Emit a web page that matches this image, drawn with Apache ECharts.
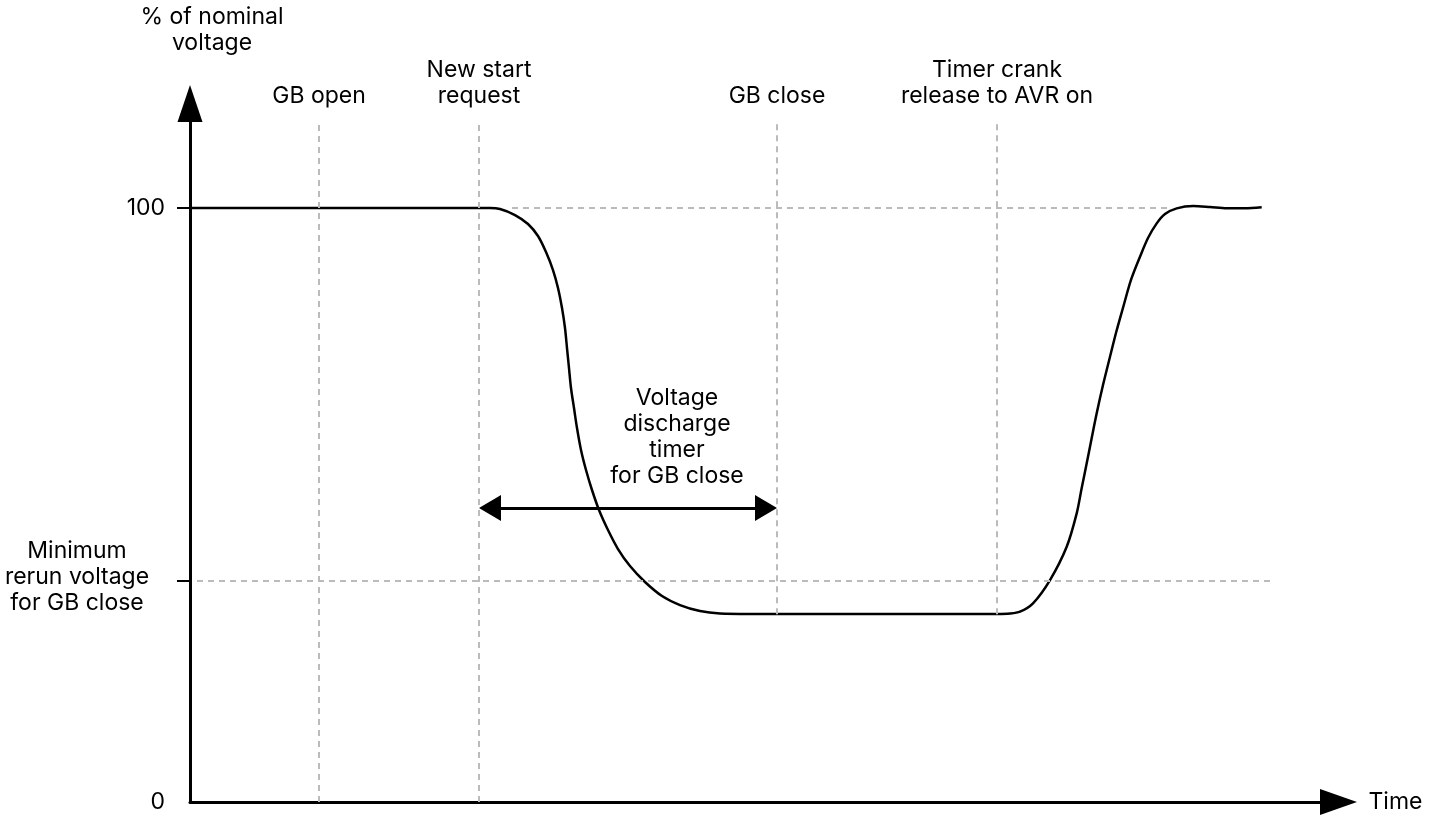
<!DOCTYPE html>
<html><head><meta charset="utf-8">
<script src="https://cdn.jsdelivr.net/npm/echarts@6/dist/echarts.min.js"></script>
<style>html,body{margin:0;padding:0;background:#fff}#c{width:1444px;height:819px}</style>
</head><body><div id="c"></div>
<script>
// ---- data ----
const timeX = [0, 15, 28, 30, 31, 32.5, 33.8, 34.8, 35.6, 36.3, 36.8, 37.2, 37.5, 37.7, 37.9, 38.1, 38.4, 38.7, 39.1, 39.6, 40.2, 40.9, 41.8, 42.8, 44.0, 45.5, 47.2, 49.0, 51.0, 53.0, 56, 68, 78.5, 80.7, 82, 83, 84.3, 86, 87.67, 88.67, 89.17, 89.67, 90.17, 90.67, 91.3, 92, 92.65, 93.33, 94.1, 95, 95.8, 96.67, 97.5, 98.67, 100.33, 102, 103.67, 105.5, 107.17];
const voltageY = [100, 100, 100, 100, 99.83, 98.82, 97.31, 95.29, 92.59, 89.56, 86.53, 83.16, 79.80, 76.43, 73.06, 69.70, 66.33, 62.96, 59.26, 55.89, 52.53, 49.16, 45.79, 42.59, 39.73, 37.04, 34.68, 33.16, 32.15, 31.73, 31.65, 31.65, 31.65, 31.65, 31.72, 32.04, 33.45, 37.37, 42.98, 48.60, 52.86, 57.02, 61.28, 65.44, 70.2, 74.97, 79.3, 83.38, 87.9, 91.80, 94.95, 97.42, 98.99, 99.95, 100.34, 100.17, 99.95, 99.95, 100.12];
const nominalLevel = 100;
const minRerunLevel = 37.2;
const yTickValues = [0, 100];
const yTickMarks = [100, 37.2];
const eventNames = ['GB open', 'New start\nrequest', 'GB close', 'Timer crank\nrelease to AVR on'];
const eventTimes = [12.9, 28.9, 58.7, 80.7];
const eventLineFrom = [0, 0, 31.6, 31.6];
const eventLineTop = 114.5;
const nominalDashRange = [32.2, 97.7];
const minRerunDashRange = [0.7, 108];
const timerArrowRange = [30.0, 57.6];
const timerArrowLevel = 49.5;
const yAxisName = '% of nominal\nvoltage';
const minRerunLabel = 'Minimum\nrerun voltage\nfor GB close';
const timerLabel = 'Voltage\ndischarge\ntimer\nfor GB close';

const FONT = 'Inter, "Noto Sans", sans-serif';
const FS = 23;
const LH = 26;
const chart = echarts.init(document.getElementById('c'));
const dash = {color: '#bbbbbb', width: 2, type: [6, 5]};

const vLines = eventTimes.map((t, i) => [{coord: [t, eventLineFrom[i]]}, {coord: [t, eventLineTop]}]);
const hLines = [
  [{coord: [nominalDashRange[0], nominalLevel]}, {coord: [nominalDashRange[1], nominalLevel]}],
  [{coord: [minRerunDashRange[0], minRerunLevel]}, {coord: [minRerunDashRange[1], minRerunLevel]}]
];

chart.setOption({
  animation: false,
  backgroundColor: '#fff',
  grid: {left: 190, right: 105.5, top: 103.5, bottom: 17, containLabel: false},
  xAxis: {
    type: 'value', min: 0, max: 114.85,
    name: 'Time', nameLocation: 'end', nameGap: 30,
    nameTextStyle: {fontFamily: FONT, fontSize: FS, color: '#000', verticalAlign: 'middle'},
    axisLine: {show: true, onZero: false, symbol: ['none', 'triangle'], symbolSize: [26, 37], lineStyle: {color: '#000', width: 3}},
    axisTick: {show: false}, axisLabel: {show: false}, splitLine: {show: false}
  },
  yAxis: {
    type: 'value', min: 0, max: 117.6,
    axisLine: {show: true, onZero: false, symbol: ['none', 'triangle'], symbolSize: [25, 37], lineStyle: {color: '#000', width: 3}},
    axisTick: {show: true, length: 13, customValues: yTickMarks, lineStyle: {color: '#000', width: 2}},
    axisLabel: {show: true, customValues: yTickValues, margin: 25, fontFamily: FONT, fontSize: FS, color: '#000'},
    splitLine: {show: false}
  },
  series: [
    {
      type: 'line', data: [], silent: true,
      markLine: {silent: true, symbol: ['none', 'none'], label: {show: false}, lineStyle: dash, data: vLines.concat(hLines), animation: false}
    },
    {
      type: 'line', data: [], silent: true,
      markLine: {silent: true, symbol: ['triangle', 'triangle'], symbolSize: [26, 22], label: {show: false},
        lineStyle: {color: '#000', width: 3, type: 'solid'},
        data: [[{coord: [timerArrowRange[0], timerArrowLevel]}, {coord: [timerArrowRange[1], timerArrowLevel]}]], animation: false}
    },
    {
      type: 'line', data: timeX.map((t, i) => [t, voltageY[i]]),
      showSymbol: false, smooth: 0.3,
      lineStyle: {color: '#000', width: 2.5}
    }
  ]
});

// text annotations anchored via the chart's own coordinate conversion
const annos = [
  {text: yAxisName, at: [2.2, 129.9]},
  {text: eventNames[0], at: [eventTimes[0], 118.9]},
  {text: eventNames[1], at: [eventTimes[1], 120.96]},
  {text: eventNames[2], at: [eventTimes[2], 118.9]},
  {text: eventNames[3], at: [eventTimes[3], 120.96]},
  {text: minRerunLabel, at: [-11.3, 37.9]},
  {text: timerLabel, at: [48.7, 61.4]}
];
chart.setOption({
  graphic: annos.map(a => {
    const p = chart.convertToPixel({gridIndex: 0}, a.at);
    return {type: 'text', x: p[0], y: p[1], silent: true,
      style: {text: a.text, align: 'center', verticalAlign: 'middle', fontFamily: FONT, fontSize: FS, lineHeight: LH, fill: '#000'}};
  })
});
</script></body></html>
